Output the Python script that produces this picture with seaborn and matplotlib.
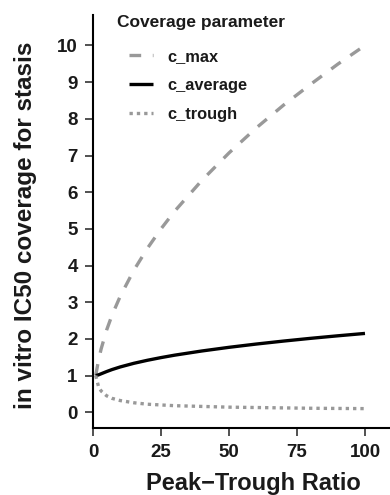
import numpy as np
import pandas as pd
import matplotlib
matplotlib.use("Agg")
import matplotlib.pyplot as plt
import seaborn as sns

# Data
ratio = [1, 2, 3, 5, 7, 10, 15, 20, 25, 30, 40, 50, 60, 70, 80, 90, 100]
c_max = [1.0, 1.41, 1.73, 2.24, 2.65, 3.16, 3.87, 4.47, 5.0, 5.48, 6.32, 7.07, 7.75, 8.37, 8.94, 9.49, 10.0]
c_average = [1.0, 1.02, 1.05, 1.11, 1.165, 1.236, 1.335, 1.418, 1.491, 1.557, 1.671, 1.771, 1.86, 1.941, 2.016, 2.085, 2.15]
c_trough = [1.0, 0.71, 0.58, 0.45, 0.38, 0.32, 0.26, 0.22, 0.20, 0.18, 0.16, 0.14, 0.13, 0.12, 0.11, 0.105, 0.10]
series_names = ["c_max", "c_average", "c_trough"]
x_ticks = [0, 25, 50, 75, 100]
y_ticks = [0, 1, 2, 3, 4, 5, 6, 7, 8, 9, 10]

df = pd.concat([
    pd.DataFrame({"ratio": ratio, "value": c_max, "Coverage parameter": "c_max"}),
    pd.DataFrame({"ratio": ratio, "value": c_average, "Coverage parameter": "c_average"}),
    pd.DataFrame({"ratio": ratio, "value": c_trough, "Coverage parameter": "c_trough"}),
])

sns.set_style("ticks")
plt.rcParams['font.family'] = ['Liberation Sans', 'DejaVu Sans']

W, H = 390, 495
fig = plt.figure(figsize=(3.9, 4.95), dpi=100)
ax = fig.add_axes([93 / W, 1 - 427.7 / H, (W - 93) / W, (427.7 - 15) / H])

palette = {"c_max": "#999999", "c_average": "#000000", "c_trough": "#999999"}
dashes = {"c_max": (3.5, 3.5), "c_average": "", "c_trough": (1, 1.2)}

sns.lineplot(data=df, x="ratio", y="value", hue="Coverage parameter",
             style="Coverage parameter", hue_order=series_names, style_order=series_names,
             palette=palette, dashes=dashes, linewidth=2.4, ax=ax, legend=True)

for line in ax.get_lines():
    line.set_solid_capstyle("butt")
    line.set_dash_capstyle("butt")

ax.set_xlim(0, 109.2)
ax.set_ylim(-0.42, 10.83)
ax.set_xticks(x_ticks)
ax.set_yticks(y_ticks)
ax.set_xticklabels([str(v) for v in x_ticks], fontweight="bold", fontsize=13.5)
ax.set_yticklabels([str(v) for v in y_ticks], fontweight="bold", fontsize=13.5)
ax.tick_params(axis="both", direction="out", length=6, width=1.2, color="#333333", pad=5,
               labelcolor="#1a1a1a")
ax.tick_params(axis="x", pad=6)
for side in ["top", "right"]:
    ax.spines[side].set_visible(False)
for side in ["left", "bottom"]:
    ax.spines[side].set_linewidth(1.5)
    ax.spines[side].set_color("#000000")

ax.set_xlabel("Peak\u2212Trough Ratio", fontweight="bold", fontsize=17, color="#1a1a1a")
ax.set_ylabel("in vitro IC50 coverage for stasis", fontweight="bold", fontsize=17.5, color="#1a1a1a")
ax_h = 427.7 - 15
ax.xaxis.set_label_coords((253.5 - 93) / 297, (427.7 - 472) / ax_h)
ax.yaxis.set_label_coords((37 - 93) / 297, (427.7 - 225.5) / ax_h)

handles, labels = ax.get_legend_handles_labels()
leg = ax.legend(handles, labels, loc="upper left",
                bbox_to_anchor=(129 / W, 1 - 49 / H), bbox_transform=fig.transFigure,
                frameon=False, prop={"weight": "bold", "size": 11.8},
                handlelength=1.46, handletextpad=0.9, labelspacing=0.85,
                borderaxespad=0, borderpad=0)
for t in leg.get_texts():
    t.set_color("#1a1a1a")
fig.text(117 / W, 1 - 27 / H, "Coverage parameter", fontweight="bold", fontsize=12.5,
         ha="left", va="baseline", color="#1a1a1a")

fig.savefig("out.png", dpi=100)
